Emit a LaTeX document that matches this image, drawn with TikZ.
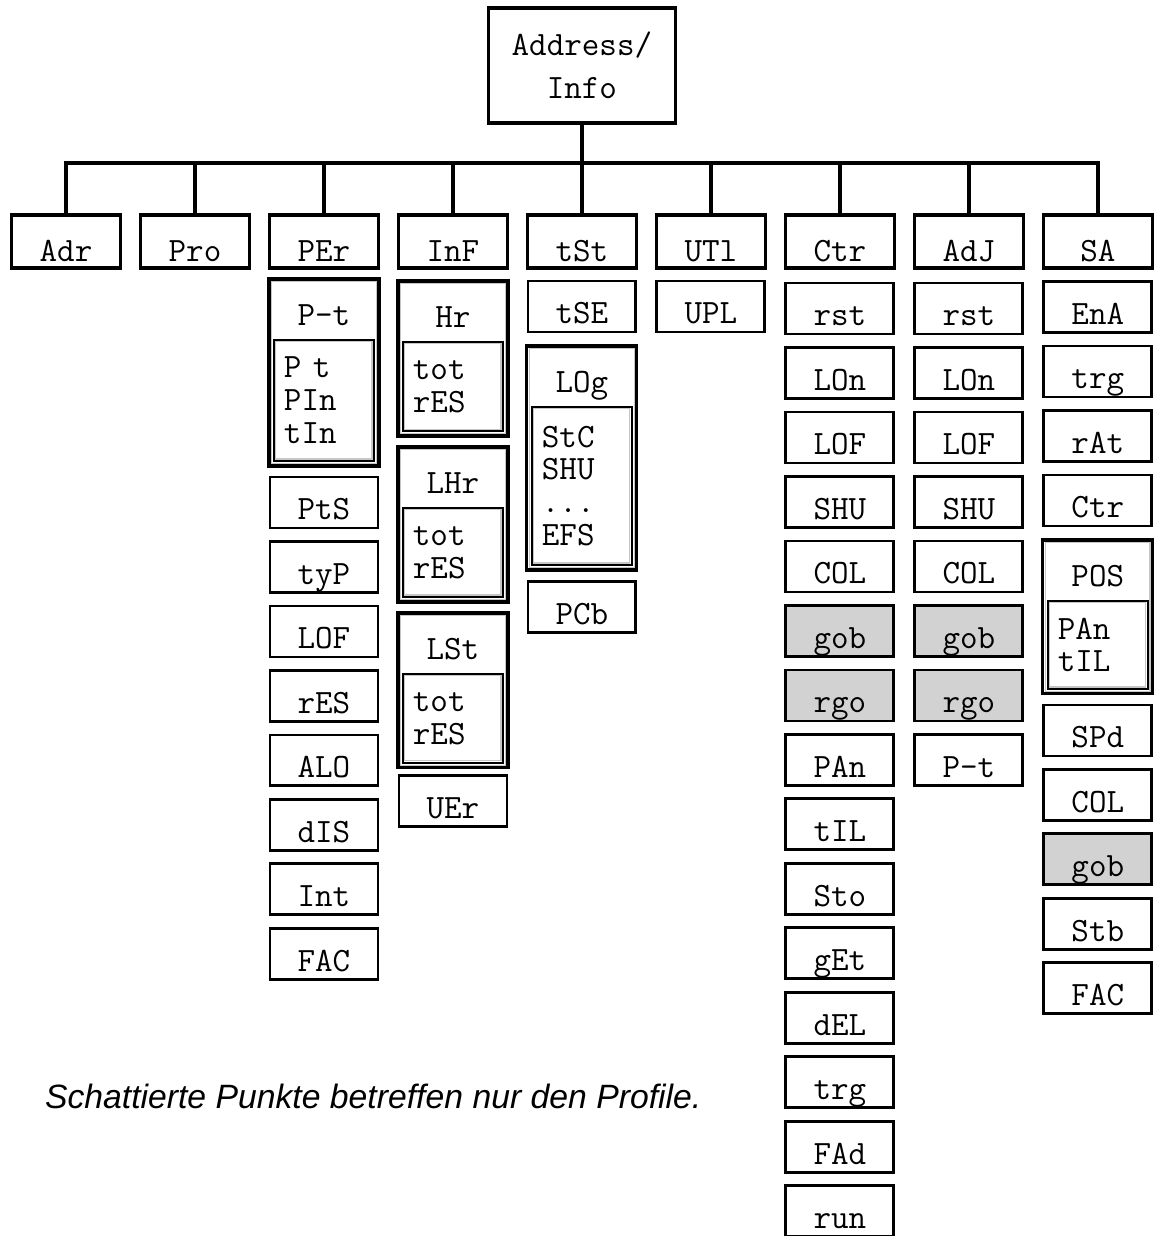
\documentclass[tikz,border=0pt]{standalone}
\usepackage{fontspec}
\newfontfamily\capfont{Liberation Sans}
\usetikzlibrary{positioning,fit}

\begin{document}
\begin{tikzpicture}[x=0.02cm, y=0.02cm,
      node distance=0.27cm and 0.4cm,
      every node/.style={outer sep=0pt},
      mono/.style={font=\fontsize{19.4pt}{18.7pt}\selectfont\ttfamily},
      rim/.style={append after command={\pgfextra{\draw[draw=gray!45, line width=0.6pt] ([shift={(#1,-#1)}]\tikzlastnode.north west) rectangle ([shift={(-#1,#1)}]\tikzlastnode.south east);}}},
      root/.style={draw, line width=2pt, minimum width=3.74cm, minimum height=2.3cm, inner sep=0pt, align=center, font=\fontsize{19.4pt}{24.4pt}\selectfont\ttfamily},
      head/.style={mono, draw, line width=2pt, minimum width=2.18cm, inner sep=0pt, text height=0.94cm, text depth=0.12cm},
      item/.style={mono, draw, line width=1.6pt, minimum width=2.16cm, inner sep=0pt, text height=0.86cm, text depth=0.16cm},
      shade/.style={item, fill=gray!35},
      ttl/.style={mono, minimum width=2cm, inner sep=0pt, text height=0.84cm, text depth=0.28cm},
      sub/.style={mono, draw, line width=1pt, inner xsep=0.2cm, text width=1.6cm, align=left, rim=1.1pt},
      grp/.style={draw, line width=1.8pt, inner sep=0.1cm, rim=1.6pt},
      bus/.style={line width=2pt},
      capt/.style={font=\capfont\fontsize{19.2pt}{20pt}\selectfont\itshape, inner sep=0pt}]
    \useasboundingbox (0,0) rectangle (1161,-1236);
    % top row
    \node[head] (adr) at (66,-241.5) {Adr};
    \node[head, right=of adr] (pro) {Pro};
    \node[head, right=of pro] (per) {PEr};
    \node[head, right=of per] (inf) {InF};
    \node[head, right=of inf] (tst) {tSt};
    \node[head, right=of tst] (utl) {UTl};
    \node[head, right=of utl] (ctr) {Ctr};
    \node[head, right=of ctr] (adj) {AdJ};
    \node[head, right=of adj] (sa) {SA};
    \node[root, above=1.84cm of tst] (addr) {Address/\\Info};
    \coordinate[below=0.8cm of addr] (hub);
    \draw[bus] (addr) -- (hub);
    \draw[bus] (adr.north) |- (hub);
    \draw[bus] (pro.north) |- (hub);
    \draw[bus] (per.north) |- (hub);
    \draw[bus] (inf.north) |- (hub);
    \draw[bus] (tst.north) -- (hub);
    \draw[bus] (utl.north) |- (hub);
    \draw[bus] (ctr.north) |- (hub);
    \draw[bus] (adj.north) |- (hub);
    \draw[bus] (sa.north) |- (hub);
    % PEr
    \node[ttl, below=0.32cm of per] (pt) {P-t};
    \node[sub, minimum height=2.42cm, below=0pt of pt] (ptlist) {P\ t\\PIn\\tIn};
    \node[grp, fit=(pt)(ptlist)] (ptg) {};
    \node[item, below=0.22cm of ptg] (pts) {PtS};
    \node[item, below=of pts] (typ) {tyP};
    \node[item, below=of typ] (perlof) {LOF};
    \node[item, below=of perlof] (perres) {rES};
    \node[item, below=of perres] (alo) {ALO};
    \node[item, below=of alo] (dis) {dIS};
    \node[item, below=of dis] (int) {Int};
    \node[item, below=of int] (perfac) {FAC};
    % InF
    \node[ttl, below=0.36cm of inf] (hr) {Hr};
    \node[sub, minimum height=1.78cm, below=0pt of hr] (hrlist) {tot\\rES};
    \node[grp, fit=(hr)(hrlist)] (hrg) {};
    \node[ttl, below=0.32cm of hrg] (lhr) {LHr};
    \node[sub, minimum height=1.78cm, below=0pt of lhr] (lhrlist) {tot\\rES};
    \node[grp, fit=(lhr)(lhrlist)] (lhrg) {};
    \node[ttl, below=0.32cm of lhrg] (lst) {LSt};
    \node[sub, minimum height=1.78cm, below=0pt of lst] (lstlist) {tot\\rES};
    \node[grp, fit=(lst)(lstlist)] (lstg) {};
    \node[item, below=0.16cm of lstg] (uer) {UEr};
    % tSt
    \node[item, below=0.26cm of tst] (tse) {tSE};
    \node[ttl, below=0.38cm of tse] (log) {LOg};
    \node[sub, minimum height=3.16cm, below=0pt of log] (loglist) {StC\\SHU\\...\\EFS};
    \node[grp, fit=(log)(loglist)] (logg) {};
    \node[item, below=0.23cm of logg] (pcb) {PCb};
    % UTl
    \node[item, below=0.26cm of utl] (upl) {UPL};
    % Ctr
    \node[item, below=0.3cm of ctr] (ctrrst) {rst};
    \node[item, below=of ctrrst] (ctrlon) {LOn};
    \node[item, below=of ctrlon] (ctrlof) {LOF};
    \node[item, below=of ctrlof] (ctrshu) {SHU};
    \node[item, below=of ctrshu] (ctrcol) {COL};
    \node[shade, below=of ctrcol] (ctrgob) {gob};
    \node[shade, below=of ctrgob] (ctrrgo) {rgo};
    \node[item, below=of ctrrgo] (ctrpan) {PAn};
    \node[item, below=of ctrpan] (ctrtil) {tIL};
    \node[item, below=of ctrtil] (sto) {Sto};
    \node[item, below=of sto] (get) {gEt};
    \node[item, below=of get] (del) {dEL};
    \node[item, below=of del] (ctrtrg) {trg};
    \node[item, below=of ctrtrg] (fad) {FAd};
    \node[item, below=of fad] (run) {run};
    % AdJ
    \node[item, below=0.3cm of adj] (adjrst) {rst};
    \node[item, below=of adjrst] (adjlon) {LOn};
    \node[item, below=of adjlon] (adjlof) {LOF};
    \node[item, below=of adjlof] (adjshu) {SHU};
    \node[item, below=of adjshu] (adjcol) {COL};
    \node[shade, below=of adjcol] (adjgob) {gob};
    \node[shade, below=of adjgob] (adjrgo) {rgo};
    \node[item, below=of adjrgo] (adjpt) {P-t};
    % SA
    \node[item, below=of sa] (ena) {EnA};
    \node[item, below=of ena] (satrg) {trg};
    \node[item, below=of satrg] (rat) {rAt};
    \node[item, below=of rat] (sactr) {Ctr};
    \node[ttl, below=0.38cm of sactr] (pos) {POS};
    \node[sub, minimum height=1.76cm, below=0pt of pos] (poslist) {PAn\\tIL};
    \node[grp, fit=(pos)(poslist)] (posg) {};
    \node[item, below=0.22cm of posg] (spd) {SPd};
    \node[item, below=of spd] (sacol) {COL};
    \node[shade, below=of sacol] (sagob) {gob};
    \node[item, below=of sagob] (stb) {Stb};
    \node[item, below=of stb] (safac) {FAC};
    % note
    \node[capt, anchor=base west] (note) at (45,-1108) {Schattierte Punkte betreffen nur den Profile.};
\end{tikzpicture}
\end{document}
